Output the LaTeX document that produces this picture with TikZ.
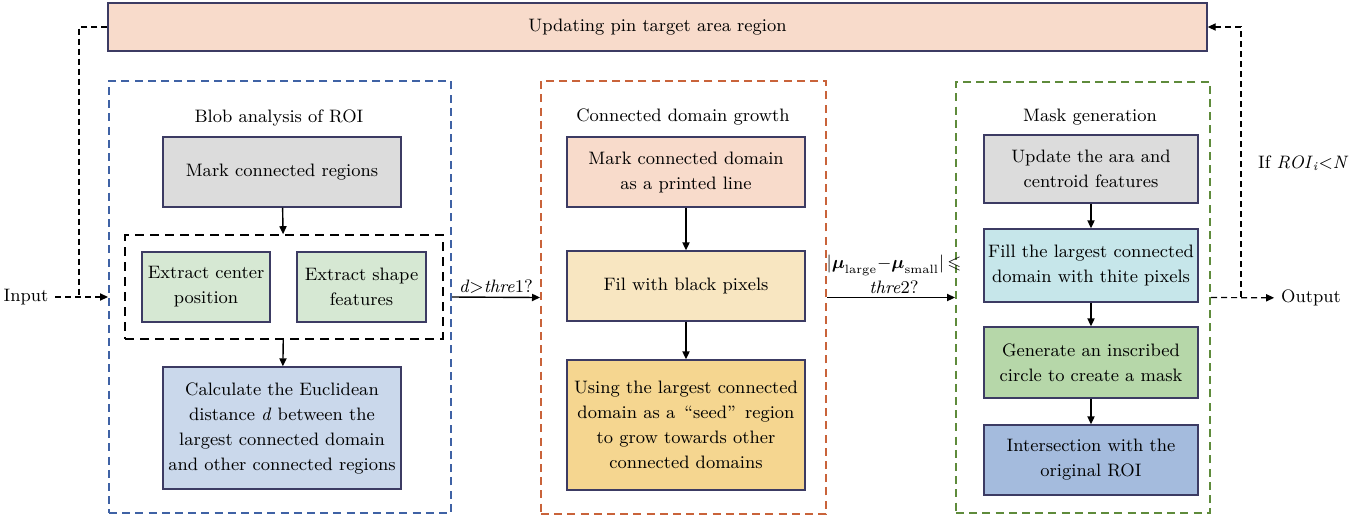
\documentclass[tikz,border=0pt]{standalone}
\usepackage{amsmath,amssymb}
\usepackage{fontspec}
\usetikzlibrary{positioning,arrows.meta,fit}

\definecolor{boxline}{HTML}{3C3B63}
\definecolor{peach}{HTML}{F8DBCB}
\definecolor{greybox}{HTML}{DCDCDC}
\definecolor{mint}{HTML}{D6E8D3}
\definecolor{skyblue}{HTML}{CAD8EB}
\definecolor{cream}{HTML}{F8E6C1}
\definecolor{sand}{HTML}{F5D690}
\definecolor{aqua}{HTML}{C6E6EA}
\definecolor{leaf}{HTML}{B6D7A9}
\definecolor{steel}{HTML}{A4BBDD}
\definecolor{frameblue}{HTML}{3F62A5}
\definecolor{frameorange}{HTML}{C9633A}
\definecolor{framegreen}{HTML}{5E8B3B}

\begin{document}
\begin{tikzpicture}[
  x=0.5pt, y=-0.5pt,
  font=\fontsize{9}{12.5}\selectfont,
  block/.style={draw=boxline, line width=0.7pt, align=center, inner sep=1.5pt},
  frame/.style={line width=1pt, dash pattern=on 4pt off 2.6pt},
  arr/.style={-{Triangle[length=4pt,width=3.6pt]}, line width=0.7pt},
  fb/.style={line width=0.6pt, dash pattern=on 3pt off 2pt},
  note/.style={midway, above, align=center, inner sep=1.5pt}
]
\useasboundingbox (0,0) rectangle (1365,521);

% top bar
\node[block, fill=peach, minimum width=549.5pt, minimum height=24pt] (top) at (657.5,27) {Updating pin target area region};

% dashed frames
\node[frame, draw=frameblue, minimum width=171pt, minimum height=216pt] (blob) at (280,297) {};
\node[frame, draw=frameorange, minimum width=142.5pt, minimum height=216.5pt] (grow) at (683.5,297.5) {};
\node[frame, draw=framegreen, minimum width=127pt, minimum height=215.5pt] (mask) at (1083,297.5) {};

% blob analysis
\node (blobtitle) at (279,118) {Blob analysis of ROI};
\node[block, fill=greybox, minimum width=119pt, minimum height=35pt] (mark) at (282,172) {Mark connected regions};
\node[block, fill=mint, minimum width=64pt, minimum height=35pt] (center) at (206,287) {Extract center\\position};
\node[block, fill=mint, minimum width=64.5pt, minimum height=35pt] (shape) at (361.5,287) {Extract shape\\features};
\node[draw, line width=1.1pt, dash pattern=on 4.5pt off 3pt, fit=(center)(shape), inner sep=8pt] (extract) {};
\node[block, fill=skyblue, minimum width=119pt, minimum height=61pt] (calc) at (282,428) {Calculate the Euclidean\\distance \textit{d} between the\\largest connected domain\\and other connected regions};

% connected domain growth
\node (growtitle) at (683,117) {Connected domain growth};
\node[block, fill=peach, minimum width=119pt, minimum height=35pt] (domain) at (686,172) {Mark connected domain\\as a printed line};
\node[block, fill=cream, minimum width=119pt, minimum height=35pt] (black) at (686,286) {Fil with black pixels};
\node[block, fill=sand, minimum width=119pt, minimum height=65pt] (seed) at (686,425) {Using the largest connected\\domain as a \,“seed”\, region\\to grow towards other\\connected domains};

% mask generation
\node (masktitle) at (1090,117) {Mask generation};
\node[block, fill=greybox, minimum width=107pt, minimum height=34pt] (update) at (1091,169) {Update the ara and\\centroid features};
\node[block, fill=aqua, minimum width=107pt, minimum height=36.5pt] (white) at (1091,265.5) {Fill the largest connected\\domain with thite pixels};
\node[block, fill=leaf, minimum width=107pt, minimum height=35.5pt] (circle) at (1091,362.5) {Generate an inscribed\\circle to create a mask};
\node[block, fill=steel, minimum width=107pt, minimum height=35pt] (inter) at (1091,460) {Intersection with the\\original ROI};

% input / output
\node (input) at (26,297) {Input};
\node (output) at (1311,298) {Output};
\node[anchor=west] (cond) at (1251,163) {If \textit{ROI}\textsubscript{\textit{i}}<\textit{N}};
\coordinate (jin) at (79,297);
\coordinate (jout) at (1241,297);

% arrows
\draw[arr] (mark) -- (extract);
\draw[arr] (extract) -- (calc);
\draw[arr] (domain) -- (black);
\draw[arr] (black) -- (seed);
\draw[arr] (update) -- (white);
\draw[arr] (white) -- (circle);
\draw[arr] (circle) -- (inter);
\draw[arr] (blob.east) -- node[note] {\textit{d}>\textit{thre}1?} (grow.west);
\draw[arr] (grow.east) -- node[note, xshift=1.5pt] {$|\boldsymbol{\mu}_{\text{large}}{-}\boldsymbol{\mu}_{\text{small}}|\,{\leqslant}$\\\textit{thre}2?} (mask.east -| mask.west);

% feedback loop
\draw[fb, arr, line width=0.6pt] (input) -- (blob.west);
\draw[fb] (top.west) -| (jin);
\draw[fb, arr, line width=0.6pt] (mask.east) -- (output);
\draw[fb, arr, line width=0.6pt] (jout) |- (top.east);

\end{tikzpicture}
\end{document}
